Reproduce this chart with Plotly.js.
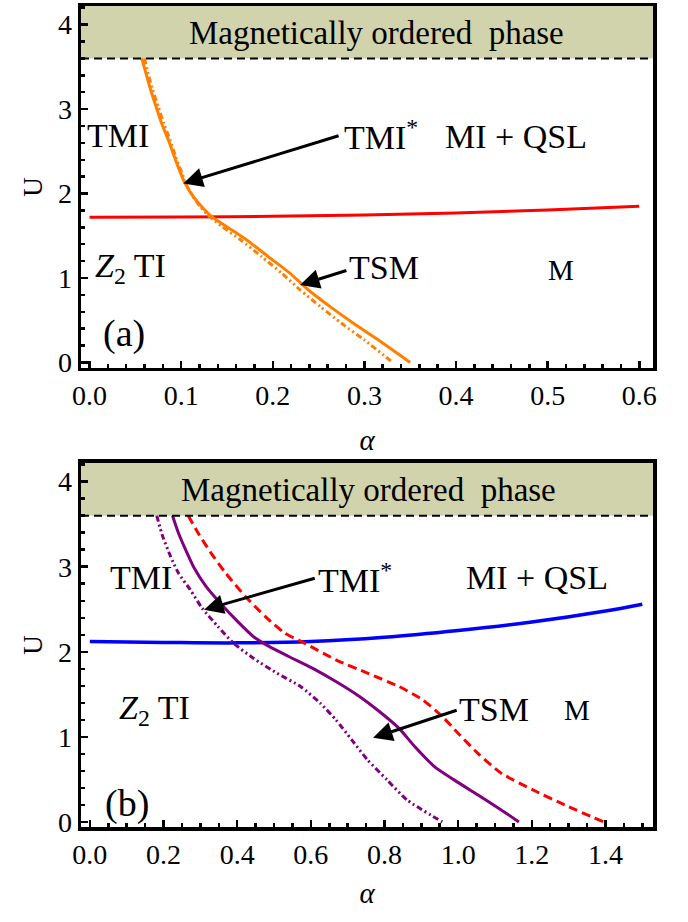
<!DOCTYPE html>
<html>
<head>
<meta charset="utf-8">
<script src="https://cdn.plot.ly/plotly-3.0.1.min.js"></script>
<style>html,body{margin:0;padding:0;background:#fff;}#plot{width:688px;height:922px;}</style>
</head>
<body>
<div id="plot"></div>
<script>
// ---------- Panel (a) data ----------
const UOrange = [3.60, 3.42, 3.225, 3.03, 2.83, 2.633, 2.436, 2.239, 2.12, 1.962, 1.844, 1.726, 1.607, 1.45, 1.252, 1.055, 0.858, 0.661, 0.464, 0.266, 0.0];
const alphaOrangeSolid = [0.0570, 0.0617, 0.0668, 0.0726, 0.0788, 0.0861, 0.0926, 0.0995, 0.1043, 0.1134, 0.1225, 0.1334, 0.1498, 0.1716, 0.1952, 0.2189, 0.2389, 0.2626, 0.2880, 0.3153, 0.3500];
const alphaOrangeDash  = [0.0600, 0.0640, 0.0690, 0.0750, 0.0810, 0.0880, 0.0940, 0.1010, 0.1050, 0.1130, 0.1210, 0.1310, 0.1450, 0.1650, 0.1880, 0.2100, 0.2300, 0.2520, 0.2750, 0.3000, 0.3310];
const alphaRedA = [0.0, 0.1, 0.2, 0.3, 0.4, 0.5, 0.6];
const URedA     = [1.72, 1.722, 1.73, 1.745, 1.77, 1.805, 1.85];

// ---------- Panel (b) data ----------
const alphaPurpleSolid = [0.2245, 0.2406, 0.262, 0.2833, 0.3154, 0.3582, 0.401, 0.4437, 0.4865, 0.54, 0.604, 0.668, 0.732, 0.786, 0.839, 0.882, 0.9355, 0.989, 1.053, 1.117, 1.165];
const UPurpleSolid     = [3.60, 3.396, 3.18, 2.984, 2.769, 2.553, 2.357, 2.18, 2.063, 1.945, 1.808, 1.651, 1.475, 1.298, 1.102, 0.886, 0.651, 0.494, 0.318, 0.141, 0.0];
const alphaPurpleDash  = [0.1818, 0.1978, 0.2192, 0.2406, 0.2726, 0.3047, 0.3475, 0.390, 0.4437, 0.508, 0.572, 0.6255, 0.668, 0.711, 0.754, 0.807, 0.861, 0.957];
const UPurpleDash      = [3.60, 3.357, 3.122, 2.925, 2.73, 2.514, 2.298, 2.102, 1.925, 1.749, 1.592, 1.396, 1.2, 0.965, 0.729, 0.494, 0.259, 0.0];
const alphaRedB = [0.2673, 0.294, 0.3261, 0.3689, 0.4223, 0.4758, 0.5292, 0.5827, 0.668, 0.7538, 0.8393, 0.9035, 0.957, 0.9997, 1.053, 1.117, 1.203, 1.299, 1.395];
const URedB     = [3.60, 3.396, 3.18, 2.925, 2.651, 2.416, 2.22, 2.102, 1.906, 1.749, 1.592, 1.435, 1.239, 1.043, 0.808, 0.573, 0.376, 0.18, 0.0];
const alphaBlue = [0.0, 0.2, 0.4, 0.6, 0.8, 1.0, 1.2, 1.4, 1.5];
const UBlue     = [2.12, 2.11, 2.105, 2.12, 2.17, 2.25, 2.35, 2.48, 2.56];

// Phase boundary of the magnetically ordered phase
const UMagnetic = 3.6;
const xTicksA = [0, 0.1, 0.2, 0.3, 0.4, 0.5, 0.6];
const xTicksB = [0, 0.2, 0.4, 0.6, 0.8, 1.0, 1.2, 1.4];
const yTicks = [0, 1, 2, 3, 4];

const FONT = 'Liberation Serif, Times New Roman, serif';
const xRangeA = [-0.0093, 0.615], yRangeA = [-0.065, 4.22];
const xRangeB = [-0.024, 1.529], yRangeB = [-0.06, 4.22];

const orange = 'rgb(255,128,0)';
const purple = 'rgb(128,0,128)';
const dashDot = '6px,3px,2px,3px,2px,3px';

const traces = [
  {x: alphaRedA, y: URedA, xaxis: 'x', yaxis: 'y', mode: 'lines', line: {color: 'rgb(255,0,0)', width: 3, shape: 'spline'}},
  {x: alphaOrangeDash, y: UOrange, xaxis: 'x', yaxis: 'y', mode: 'lines', line: {color: orange, width: 3, shape: 'spline', smoothing: 0.6, dash: dashDot}},
  {x: alphaOrangeSolid, y: UOrange, xaxis: 'x', yaxis: 'y', mode: 'lines', line: {color: orange, width: 3, shape: 'spline', smoothing: 0.6}},
  {x: alphaBlue, y: UBlue, xaxis: 'x2', yaxis: 'y2', mode: 'lines', line: {color: 'rgb(0,0,255)', width: 3.5, shape: 'spline'}},
  {x: alphaRedB, y: URedB, xaxis: 'x2', yaxis: 'y2', mode: 'lines', line: {color: 'rgb(255,0,0)', width: 3, shape: 'spline', smoothing: 0.6, dash: '9px,5px'}},
  {x: alphaPurpleDash, y: UPurpleDash, xaxis: 'x2', yaxis: 'y2', mode: 'lines', line: {color: purple, width: 3, shape: 'spline', smoothing: 0.6, dash: dashDot}},
  {x: alphaPurpleSolid, y: UPurpleSolid, xaxis: 'x2', yaxis: 'y2', mode: 'lines', line: {color: purple, width: 3, shape: 'spline', smoothing: 0.6}}
];

function xaxisDef(range, ticks, minorDtick, anchor, standoff) {
  return {
    range: range, tickvals: ticks, ticktext: ticks.map(v => v.toFixed(1)),
    ticks: 'inside', ticklen: 7, tickwidth: 2.5, tickcolor: '#000',
    showline: true, linewidth: 3.5, linecolor: '#000', mirror: true,
    showgrid: false, zeroline: false, anchor: anchor,
    tickfont: {family: FONT, size: 28, color: '#000'},
    minor: {dtick: minorDtick, tick0: 0, ticks: 'inside', ticklen: 4, tickwidth: 2.5, tickcolor: '#000', showgrid: false},
    title: {text: '<i>α</i>', font: {family: FONT, size: 29, color: '#000'}, standoff: standoff}
  };
}
function yaxisDef(range, domain, anchor) {
  return {
    range: range, domain: domain, tickvals: yTicks, ticktext: yTicks.map(String),
    ticks: 'inside', ticklen: 7, tickwidth: 2.5, tickcolor: '#000',
    showline: true, linewidth: 3.5, linecolor: '#000', mirror: true,
    showgrid: false, zeroline: false, anchor: anchor,
    tickfont: {family: FONT, size: 28, color: '#000'},
    minor: {dtick: 0.2, tick0: 0, ticks: 'inside', ticklen: 4, tickwidth: 2.5, tickcolor: '#000', showgrid: false},
    title: {text: 'U', font: {family: FONT, size: 27, color: '#000'}, standoff: 8}
  };
}

const tan = 'rgb(209,211,173)';
const shapes = [
  {type: 'rect', xref: 'x domain', yref: 'y', x0: 0, x1: 1, y0: UMagnetic, y1: yRangeA[1], fillcolor: tan, line: {width: 0}, layer: 'below'},
  {type: 'line', xref: 'x domain', yref: 'y', x0: 0, x1: 1, y0: UMagnetic, y1: UMagnetic, line: {color: '#000', width: 2, dash: '8px,5px'}},
  {type: 'rect', xref: 'x2 domain', yref: 'y2', x0: 0, x1: 1, y0: UMagnetic, y1: yRangeB[1], fillcolor: tan, line: {width: 0}, layer: 'below'},
  {type: 'line', xref: 'x2 domain', yref: 'y2', x0: 0, x1: 1, y0: UMagnetic, y1: UMagnetic, line: {color: '#000', width: 2, dash: '8px,5px'}}
];

function label(xr, yr, x, y, text, size) {
  return {xref: xr, yref: yr, x: x, y: y, text: text, showarrow: false,
          font: {family: FONT, size: size || 34, color: '#000'}, xanchor: 'center', yanchor: 'middle'};
}
function arrow(xr, yr, x, y, ax, ay) {
  return {xref: xr, yref: yr, axref: xr, ayref: yr, x: x, y: y, ax: ax, ay: ay, text: '',
          showarrow: true, arrowhead: 2, arrowsize: 1.3, arrowwidth: 3, arrowcolor: '#000', standoff: 0};
}

const annotations = [
  label('x', 'y', 0.313, 3.9, 'Magnetically ordered  phase', 33),
  label('x', 'y', 0.0306, 2.69, 'TMI'),
  label('x', 'y', 0.318, 2.69, 'TMI<sup>*</sup>'),
  label('x', 'y', 0.466, 2.67, 'MI + QSL'),
  label('x', 'y', 0.045, 1.12, '<i>Z</i><sub>2</sub> TI'),
  label('x', 'y', 0.321, 1.12, 'TSM'),
  label('x', 'y', 0.515, 1.10, 'M', 29),
  label('x', 'y', 0.038, 0.34, '(a)', 38),
  arrow('x', 'y', 0.1024, 2.12, 0.2735, 2.69),
  arrow('x', 'y', 0.2298, 0.917, 0.282, 1.095),

  label('x2', 'y2', 0.756, 3.9, 'Magnetically ordered  phase', 33),
  label('x2', 'y2', 0.139, 2.87, 'TMI'),
  label('x2', 'y2', 0.72, 2.87, 'TMI<sup>*</sup>'),
  label('x2', 'y2', 1.213, 2.87, 'MI + QSL'),
  label('x2', 'y2', 0.176, 1.32, '<i>Z</i><sub>2</sub> TI'),
  label('x2', 'y2', 1.096, 1.32, 'TSM'),
  label('x2', 'y2', 1.323, 1.32, 'M', 29),
  label('x2', 'y2', 0.102, 0.22, '(b)', 38),
  arrow('x2', 'y2', 0.310, 2.494, 0.6147, 2.87),
  arrow('x2', 'y2', 0.769, 0.988, 1.0, 1.318)
];

const layout = {
  width: 688, height: 922,
  margin: {l: 81, r: 35, t: 6, b: 95},
  paper_bgcolor: '#fff', plot_bgcolor: '#fff',
  showlegend: false,
  font: {family: FONT, color: '#000'},
  xaxis: xaxisDef(xRangeA, xTicksA, 0.02, 'y', 20),
  yaxis: yaxisDef(yRangeA, [0.5591, 1], 'x'),
  xaxis2: xaxisDef(xRangeB, xTicksB, 0.05, 'y2', 14),
  yaxis2: yaxisDef(yRangeB, [0, 0.4434], 'x2'),
  shapes: shapes,
  annotations: annotations
};

Plotly.newPlot('plot', traces, layout, {displayModeBar: false, staticPlot: true});
</script>
</body>
</html>
